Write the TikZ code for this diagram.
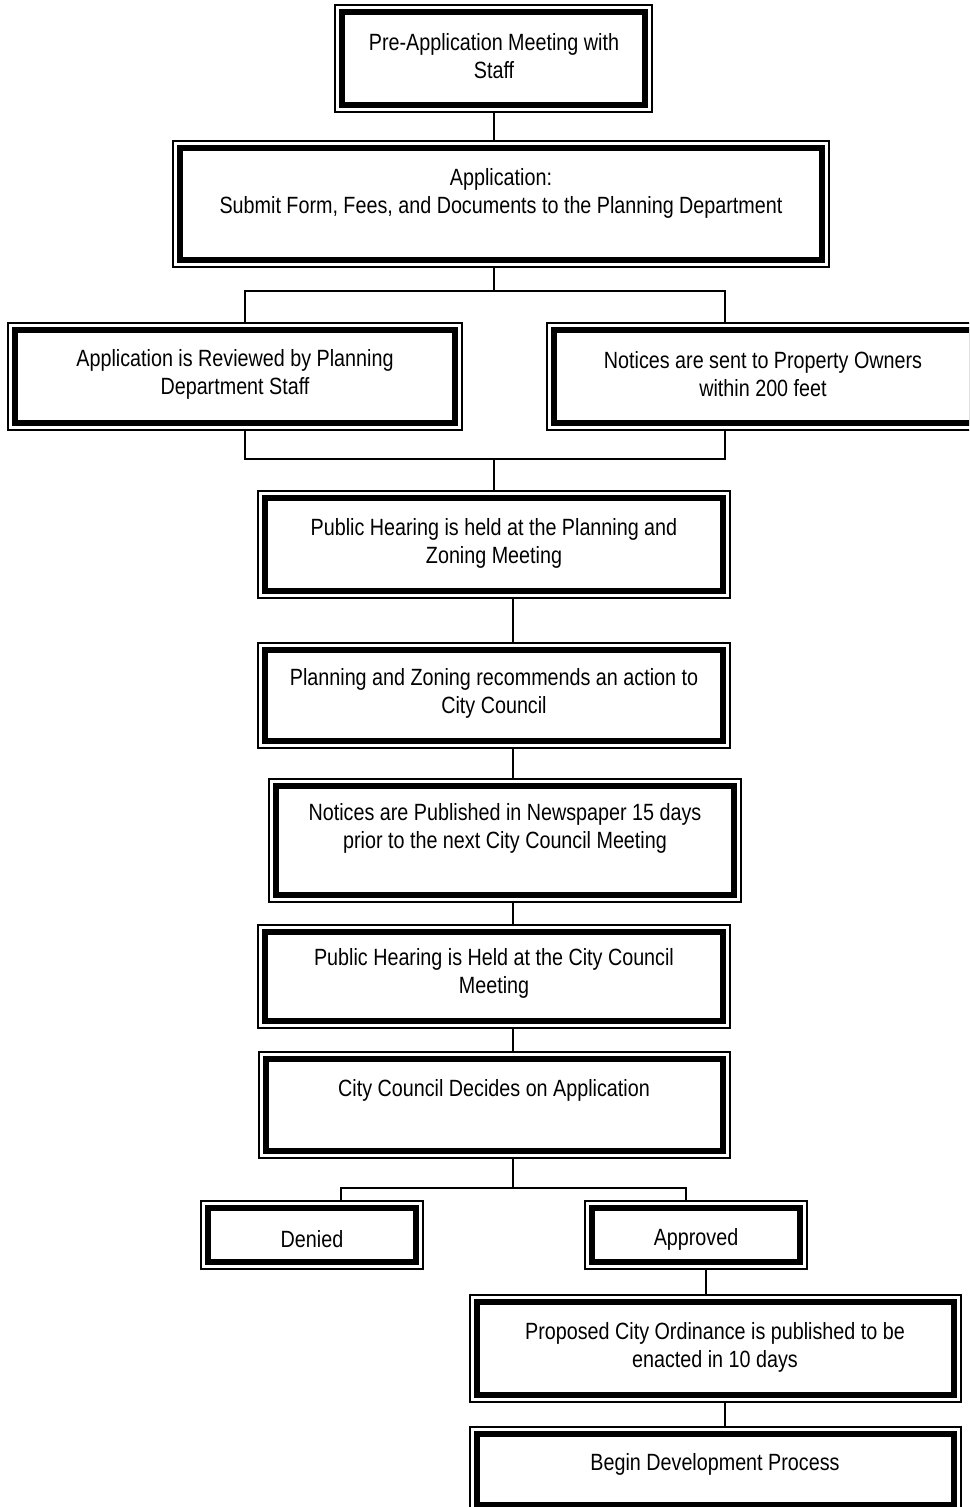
\documentclass[tikz,border=0pt]{standalone}
\usepackage{fontspec}
\setmainfont[FakeStretch=0.84]{Liberation Sans}
\tikzset{
  outerbox/.style={draw, line width=1.2pt, rectangle, inner sep=0pt},
  thickframe/.style={line width=6.5pt},
  txt/.style={align=center, inner sep=0pt, font=\fontsize{23.5}{28}\selectfont},
  conn/.style={line width=1.5pt}
}
\newcommand\flowbox[5]{%
  \node[outerbox, minimum width={(#4-#2)*1pt}, minimum height={(#5-#3)*1pt}] (#1) at ({(#2+#4)/2},{(#3+#5)/2}) {};
  \draw[thickframe] ([shift={(7.5,7.5)}]#1.north west) rectangle ([shift={(-7.5,-7.5)}]#1.south east);
}
\begin{document}
\begin{tikzpicture}[x=1pt,y=-1pt]
\useasboundingbox (0,0) rectangle (969,1507);
\clip (0,0) rectangle (969,1507);
\fill[white] (0,0) rectangle (969,1507);
% boxes
\flowbox{b1}{335}{5}{652}{112}
\flowbox{b2}{173}{141}{829}{267}
\flowbox{b3}{8}{323}{462}{430}
\flowbox{b4}{547}{323}{979}{430}
\flowbox{b5}{258}{491}{730}{598}
\flowbox{b6}{258}{643}{730}{748}
\flowbox{b7}{269}{779}{741}{902}
\flowbox{b8}{258}{925}{730}{1028}
\flowbox{b9}{259}{1052}{730}{1158}
\flowbox{b10}{201}{1201}{423}{1269}
\flowbox{b11}{585}{1201}{807}{1269}
\flowbox{b12}{470}{1295}{961}{1402}
\flowbox{b13}{470}{1427}{961}{1512}
% texts
\node[txt] (t1) at (494,56) {Pre-Application Meeting with\\Staff};
\node[txt] (t2) at (501,193) {Application:\\Submit Form, Fees, and Documents to the Planning Department};
\node[txt] (t3) at (235,374) {Application is Reviewed by Planning\\Department Staff};
\node[txt] (t4) at (763,374) {Notices are sent to Property Owners\\within 200 feet};
\node[txt] (t5) at (494,543) {Public Hearing is held at the Planning and\\Zoning Meeting};
\node[txt] (t6) at (494,693) {Planning and Zoning recommends an action to\\City Council};
\node[txt] (t7) at (505,828) {Notices are Published in Newspaper 15 days\\prior to the next City Council Meeting};
\node[txt] (t8) at (494,973) {Public Hearing is Held at the City Council\\Meeting};
\node[txt] (t9) at (494,1090) {City Council Decides on Application};
\node[txt] (t10) at (312,1239) {Denied};
\node[txt] (t11) at (696,1239) {Approved};
\node[txt] (t12) at (715,1347) {Proposed City Ordinance is published to be\\enacted in 10 days};
\node[txt] (t13) at (715,1464) {Begin Development Process};
% connectors
\coordinate (s1) at (494,291);
\coordinate (s2) at (494,459);
\coordinate (s3) at (513,1188);
\draw[conn] (b1.south -| 494,0) -- (b2.north -| 494,0);
\draw[conn] (b2.south -| s1) -- (s1);
\draw[conn] (b3.north -| 245,0) |- (s1) -| (b4.north -| 725,0);
\draw[conn] (b3.south -| 245,0) |- (s2) -| (b4.south -| 725,0);
\draw[conn] (s2) -- (b5.north -| s2);
\draw[conn] (b5.south -| 513,0) -- (b6.north -| 513,0);
\draw[conn] (b6.south -| 513,0) -- (b7.north -| 513,0);
\draw[conn] (b7.south -| 513,0) -- (b8.north -| 513,0);
\draw[conn] (b8.south -| 513,0) -- (b9.north -| 513,0);
\draw[conn] (b9.south -| s3) -- (s3);
\draw[conn] (b10.north -| 341,0) |- (s3) -| (b11.north -| 686,0);
\draw[conn] (b11.south -| 706,0) -- (b12.north -| 706,0);
\draw[conn] (b12.south -| 725,0) -- (b13.north -| 725,0);
\end{tikzpicture}
\end{document}
